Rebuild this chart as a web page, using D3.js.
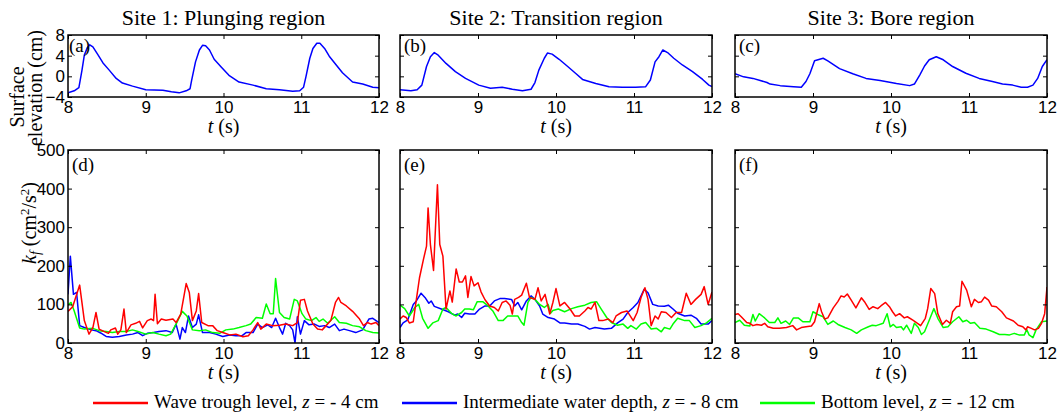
<!DOCTYPE html>
<html>
<head>
<meta charset="utf-8">
<script src="https://cdn.jsdelivr.net/npm/d3@7"></script>
<style>
  body { margin: 0; background: #fff; }
  svg { display: block; }
</style>
</head>
<body>
<svg id="chart" width="1059" height="414"></svg>
<script>
// ---- tick values and titles ----
const timeTicks = [8, 9, 10, 11, 12];
const elevTicks = [-4, 0, 4, 8];
const kfTicks = [0, 100, 200, 300, 400, 500];
const siteTitles = ["Site 1: Plunging region", "Site 2: Transition region", "Site 3: Bore region"];
const elevLetters = ["(a)", "(b)", "(c)"];
const kfLetters = ["(d)", "(e)", "(f)"];
const legendBefore = ["Wave trough level, ", "Intermediate water depth, ", "Bottom level, "];
const legendAfter = [" = - 4 cm", " = - 8 cm", " = - 12 cm"];

// ---- surface elevation (cm) vs t (s) ----
const elev1 = [[8.0,-3.2],[8.08,-2.8],[8.14,-2.2],[8.18,1.2],[8.21,4.1],[8.25,5.6],[8.28,6.1],[8.32,5.7],[8.38,4.3],[8.45,2.6],[8.53,1.2],[8.62,-0.4],[8.70,-1.3],[8.83,-1.9],[9.0,-2.6],[9.22,-2.7],[9.33,-3.0],[9.43,-3.2],[9.52,-2.8],[9.57,-2.4],[9.59,-0.8],[9.64,2.8],[9.69,5.1],[9.73,6.0],[9.77,5.9],[9.82,5.1],[9.88,3.3],[9.97,1.8],[10.07,0.2],[10.20,-1.1],[10.38,-1.7],[10.55,-2.4],[10.72,-2.6],[10.89,-2.9],[10.98,-2.8],[11.03,-2.1],[11.06,-0.1],[11.11,3.5],[11.15,5.4],[11.20,6.4],[11.24,6.4],[11.30,5.4],[11.36,3.9],[11.45,2.2],[11.53,0.7],[11.66,-1.1],[11.79,-1.5],[11.92,-2.1],[12.0,-2.2]];
const elev2 = [[8.0,-2.6],[8.14,-2.8],[8.22,-2.6],[8.28,-1.7],[8.34,1.9],[8.39,3.8],[8.44,4.6],[8.49,4.1],[8.59,2.5],[8.71,0.9],[8.84,-0.4],[9.01,-1.7],[9.16,-2.3],[9.31,-2.1],[9.44,-2.5],[9.57,-2.8],[9.68,-2.5],[9.73,-1.2],[9.78,1.2],[9.85,3.5],[9.89,4.5],[9.95,4.3],[10.04,3.3],[10.15,1.9],[10.25,0.6],[10.34,-0.6],[10.51,-1.4],[10.68,-2.0],[10.85,-2.1],[11.02,-2.1],[11.15,-2.0],[11.21,-0.7],[11.27,2.8],[11.32,3.8],[11.37,5.1],[11.43,4.6],[11.51,3.5],[11.62,2.2],[11.75,0.9],[11.88,-0.6],[11.96,-1.7],[12.0,-2.0]];
const elev3 = [[8.0,0.5],[8.11,-0.1],[8.23,-0.4],[8.41,-1.2],[8.45,-1.5],[8.58,-1.8],[8.75,-2.0],[8.85,-2.1],[8.91,-1.0],[8.96,0.5],[9.02,3.0],[9.13,3.5],[9.19,3.0],[9.34,1.5],[9.51,0.5],[9.68,-0.4],[9.86,-0.8],[10.07,-1.4],[10.24,-1.8],[10.30,-1.5],[10.37,0.3],[10.43,2.0],[10.49,3.2],[10.58,3.8],[10.67,3.2],[10.79,1.9],[10.96,0.6],[11.13,-0.4],[11.30,-1.0],[11.43,-1.5],[11.56,-1.7],[11.67,-2.1],[11.75,-2.1],[11.82,-1.7],[11.88,-0.4],[11.94,1.9],[12.0,3.2]];

// ---- turbulent kinetic energy k_f (cm^2/s^2) vs t (s) ----
const kf1Trough = [[8.0,82],[8.06,94],[8.15,150],[8.21,58],[8.27,23],[8.32,40],[8.36,79],[8.40,36],[8.46,30],[8.52,25],[8.55,34],[8.61,39],[8.64,23],[8.68,34],[8.72,88],[8.75,27],[8.81,47],[8.87,51],[8.92,56],[8.96,39],[9.02,58],[9.07,62],[9.10,58],[9.12,126],[9.15,50],[9.20,62],[9.26,59],[9.35,62],[9.39,53],[9.45,75],[9.52,154],[9.56,131],[9.60,58],[9.65,83],[9.68,128],[9.72,53],[9.80,45],[9.86,45],[9.92,32],[9.99,27],[10.08,21],[10.16,23],[10.25,16],[10.32,19],[10.38,34],[10.44,53],[10.48,36],[10.55,49],[10.63,45],[10.72,46],[10.80,49],[10.89,45],[10.95,53],[10.99,111],[11.04,113],[11.08,83],[11.15,49],[11.21,36],[11.27,34],[11.32,45],[11.38,58],[11.44,105],[11.48,118],[11.51,105],[11.58,96],[11.66,82],[11.75,62],[11.80,45],[11.85,53],[11.90,49],[11.96,53],[12.0,45]];
const kf1Mid = [[8.0,126],[8.03,225],[8.07,126],[8.11,131],[8.15,45],[8.21,40],[8.30,34],[8.36,32],[8.42,26],[8.49,17],[8.57,15],[8.66,17],[8.75,21],[8.83,23],[8.90,27],[8.96,19],[9.02,25],[9.10,27],[9.17,30],[9.26,32],[9.34,27],[9.39,49],[9.44,10],[9.47,40],[9.51,27],[9.55,70],[9.60,40],[9.65,49],[9.68,73],[9.73,27],[9.82,27],[9.90,23],[9.99,17],[10.08,21],[10.16,19],[10.24,19],[10.29,27],[10.38,27],[10.44,49],[10.50,40],[10.57,47],[10.62,40],[10.67,64],[10.72,40],[10.76,23],[10.80,51],[10.85,45],[10.89,34],[10.92,0],[10.95,68],[10.99,23],[11.04,58],[11.10,47],[11.17,49],[11.23,43],[11.30,45],[11.36,40],[11.43,49],[11.49,32],[11.55,36],[11.62,32],[11.70,27],[11.79,34],[11.87,62],[11.92,64],[12.0,53]];
const kf1Bottom = [[8.0,99],[8.04,105],[8.08,83],[8.15,39],[8.21,36],[8.32,38],[8.40,32],[8.49,30],[8.57,27],[8.66,30],[8.75,30],[8.83,34],[8.90,30],[9.00,23],[9.09,27],[9.17,23],[9.26,19],[9.32,23],[9.39,49],[9.47,82],[9.53,70],[9.60,34],[9.69,32],[9.77,34],[9.86,27],[9.95,25],[10.03,34],[10.12,36],[10.20,40],[10.29,45],[10.35,49],[10.42,66],[10.50,64],[10.55,101],[10.60,76],[10.64,76],[10.67,167],[10.72,79],[10.78,66],[10.85,62],[10.91,113],[10.95,109],[11.01,76],[11.06,62],[11.13,58],[11.19,66],[11.23,56],[11.28,62],[11.34,51],[11.43,68],[11.49,53],[11.58,51],[11.66,45],[11.75,42],[11.83,32],[11.92,27],[12.0,26]];

const kf2Trough = [[8.0,62],[8.04,70],[8.08,66],[8.12,52],[8.17,55],[8.21,113],[8.25,169],[8.30,216],[8.34,251],[8.36,350],[8.39,255],[8.43,188],[8.48,410],[8.51,255],[8.55,225],[8.59,88],[8.64,135],[8.67,106],[8.72,192],[8.76,158],[8.80,158],[8.84,174],[8.87,118],[8.91,172],[8.95,148],[9.00,156],[9.04,132],[9.09,112],[9.15,96],[9.21,92],[9.26,83],[9.31,105],[9.36,109],[9.41,98],[9.44,75],[9.47,113],[9.52,118],[9.56,124],[9.62,155],[9.66,118],[9.73,113],[9.77,143],[9.81,109],[9.86,126],[9.92,75],[9.96,105],[10.0,141],[10.05,96],[10.11,105],[10.18,88],[10.24,70],[10.30,70],[10.37,83],[10.41,92],[10.45,88],[10.50,105],[10.55,58],[10.60,58],[10.67,62],[10.73,53],[10.77,70],[10.84,79],[10.91,83],[10.99,58],[11.04,79],[11.09,118],[11.14,143],[11.18,113],[11.22,45],[11.27,70],[11.31,62],[11.35,81],[11.41,79],[11.48,66],[11.54,79],[11.61,79],[11.67,129],[11.73,100],[11.79,113],[11.86,126],[11.90,146],[11.95,100],[12.0,132]];
const kf2Mid = [[8.0,40],[8.04,52],[8.10,60],[8.17,100],[8.21,109],[8.27,129],[8.32,118],[8.37,103],[8.40,109],[8.44,95],[8.53,88],[8.62,81],[8.70,72],[8.74,75],[8.79,66],[8.83,77],[8.89,75],[8.96,75],[9.02,88],[9.09,96],[9.15,96],[9.21,109],[9.28,115],[9.34,115],[9.43,113],[9.47,96],[9.51,105],[9.56,86],[9.62,109],[9.68,122],[9.73,113],[9.79,96],[9.83,75],[9.90,66],[9.98,62],[10.05,52],[10.11,52],[10.20,49],[10.28,49],[10.37,43],[10.43,36],[10.50,40],[10.56,38],[10.62,36],[10.71,38],[10.79,52],[10.86,62],[10.92,79],[10.99,92],[11.05,105],[11.13,139],[11.18,130],[11.24,100],[11.31,96],[11.39,95],[11.44,98],[11.50,88],[11.56,77],[11.65,70],[11.73,72],[11.80,64],[11.86,49],[11.95,49],[12.0,58]];
const kf2Bottom = [[8.0,98],[8.06,89],[8.12,70],[8.19,92],[8.24,100],[8.29,64],[8.36,38],[8.42,52],[8.49,58],[8.55,88],[8.59,92],[8.66,77],[8.72,70],[8.79,79],[8.83,88],[8.89,88],[8.94,86],[8.99,107],[9.06,107],[9.13,96],[9.19,83],[9.26,58],[9.32,58],[9.38,70],[9.45,70],[9.51,70],[9.56,53],[9.59,46],[9.64,105],[9.68,118],[9.73,113],[9.79,100],[9.85,92],[9.90,100],[9.93,77],[9.96,84],[10.03,88],[10.11,81],[10.20,89],[10.28,94],[10.37,98],[10.45,105],[10.52,107],[10.58,88],[10.65,66],[10.71,53],[10.79,46],[10.86,49],[10.92,38],[10.96,45],[11.03,36],[11.09,49],[11.15,53],[11.22,36],[11.29,38],[11.35,29],[11.39,40],[11.46,36],[11.50,49],[11.56,64],[11.65,58],[11.71,58],[11.78,40],[11.86,45],[11.93,52],[12.0,64]];

const kf3Trough = [[8.0,74],[8.04,76],[8.08,68],[8.15,53],[8.19,51],[8.23,45],[8.28,48],[8.34,46],[8.38,51],[8.42,42],[8.49,38],[8.57,38],[8.66,40],[8.74,45],[8.79,34],[8.85,40],[8.91,42],[8.98,44],[9.02,55],[9.08,102],[9.11,81],[9.15,62],[9.19,65],[9.26,91],[9.32,108],[9.36,122],[9.40,119],[9.44,127],[9.49,111],[9.55,91],[9.62,117],[9.66,107],[9.72,87],[9.77,94],[9.83,89],[9.87,96],[9.93,105],[9.98,94],[10.02,81],[10.06,70],[10.11,76],[10.17,65],[10.21,68],[10.28,59],[10.34,51],[10.38,45],[10.44,64],[10.47,89],[10.51,141],[10.56,128],[10.60,76],[10.66,48],[10.71,59],[10.76,51],[10.79,81],[10.84,94],[10.88,96],[10.91,160],[10.97,137],[11.03,94],[11.07,113],[11.12,105],[11.16,107],[11.20,119],[11.25,111],[11.29,96],[11.35,94],[11.42,81],[11.48,65],[11.57,57],[11.63,46],[11.69,42],[11.73,34],[11.75,42],[11.80,38],[11.84,34],[11.89,38],[11.93,51],[11.97,76],[12.0,145]];
const kf3Bottom = [[8.0,53],[8.06,59],[8.12,46],[8.19,44],[8.23,74],[8.26,57],[8.31,76],[8.38,65],[8.44,53],[8.51,53],[8.55,65],[8.59,51],[8.65,57],[8.70,48],[8.75,65],[8.81,65],[8.87,55],[8.96,55],[9.0,81],[9.06,74],[9.13,68],[9.19,48],[9.26,57],[9.32,48],[9.41,40],[9.49,34],[9.56,25],[9.62,34],[9.71,42],[9.76,46],[9.81,45],[9.90,51],[9.95,76],[9.99,42],[10.03,48],[10.07,40],[10.13,42],[10.16,34],[10.20,46],[10.26,25],[10.30,51],[10.35,40],[10.39,22],[10.43,29],[10.49,59],[10.55,89],[10.60,64],[10.67,40],[10.73,42],[10.79,55],[10.87,68],[10.92,55],[10.97,59],[11.02,51],[11.07,53],[11.14,38],[11.22,36],[11.31,29],[11.39,22],[11.46,22],[11.52,21],[11.58,25],[11.64,21],[11.71,21],[11.74,35],[11.77,21],[11.82,14],[11.86,34],[11.93,55],[12.0,57]];

// ---- layout ----
const W = 1059, H = 414;
const columns = [[68, 379], [400, 712], [735, 1047]];
const topRow = [35, 97];
const botRow = [150, 343];
const RED = "#ff0000", BLUE = "#0000ff", GREEN = "#00ff00";
const SERIF = "'Liberation Serif', 'Times New Roman', serif";
const SANS = "'Liberation Sans', Arial, sans-serif";

const svg = d3.select("#chart");
svg.append("rect").attr("width", W).attr("height", H).attr("fill", "#fff");
const defs = svg.append("defs");

const elevPanels = [
  { lines: [{ data: elev1, color: BLUE }] },
  { lines: [{ data: elev2, color: BLUE }] },
  { lines: [{ data: elev3, color: BLUE }] }
];
const kfPanels = [
  { lines: [{ data: kf1Mid, color: BLUE }, { data: kf1Bottom, color: GREEN }, { data: kf1Trough, color: RED }] },
  { lines: [{ data: kf2Mid, color: BLUE }, { data: kf2Bottom, color: GREEN }, { data: kf2Trough, color: RED }] },
  { lines: [{ data: kf3Bottom, color: GREEN }, { data: kf3Trough, color: RED }] }
];

function drawPanel(id, col, row, yDomain, yTicks, panel, letter, showYLabels) {
  const [x0, x1] = columns[col];
  const [y0, y1] = row;
  const x = d3.scaleLinear().domain([8, 12]).range([x0, x1]);
  const y = d3.scaleLinear().domain(yDomain).range([y1, y0]);
  const g = svg.append("g");

  defs.append("clipPath").attr("id", id)
    .append("rect").attr("x", x0).attr("y", y0).attr("width", x1 - x0).attr("height", y1 - y0);

  const line = d3.line().x(d => x(d[0])).y(d => y(d[1]));
  const lg = g.append("g").attr("clip-path", `url(#${id})`);
  panel.lines.forEach(s => {
    lg.append("path").datum(s.data).attr("d", line)
      .attr("fill", "none").attr("stroke", s.color)
      .attr("stroke-width", 1.5).attr("stroke-linejoin", "round");
  });

  // bottom axis with labels, ticks pointing inward
  const ax = g.append("g").attr("transform", `translate(0,${y1})`)
    .call(d3.axisBottom(x).tickValues(timeTicks).tickSize(-4).tickPadding(4).tickFormat(d3.format("d")));
  // top axis, ticks only
  const axT = g.append("g").attr("transform", `translate(0,${y0})`)
    .call(d3.axisTop(x).tickValues(timeTicks).tickSize(-4).tickFormat(""));
  // left axis
  const ayL = g.append("g").attr("transform", `translate(${x0},0)`)
    .call(d3.axisLeft(y).tickValues(yTicks).tickSize(-4).tickPadding(3)
      .tickFormat(showYLabels ? d3.format("d") : ""));
  // right axis, ticks only
  const ayR = g.append("g").attr("transform", `translate(${x1},0)`)
    .call(d3.axisRight(y).tickValues(yTicks).tickSize(-4).tickFormat(""));

  [ax, axT, ayL, ayR].forEach(a => {
    a.select(".domain").remove();
    a.selectAll(".tick line").attr("stroke", "#000").attr("stroke-width", 1);
    a.selectAll("text").attr("fill", "#000").style("font-family", SANS).style("font-size", "17px");
  });

  g.append("rect").attr("x", x0).attr("y", y0).attr("width", x1 - x0).attr("height", y1 - y0)
    .attr("fill", "none").attr("stroke", "#000").attr("stroke-width", 1.5);

  g.append("text").attr("x", x0 + (col === 0 && row === topRow ? 1 : 4)).attr("y", y0 + (row === topRow ? 17 : 21))
    .style("font-family", SERIF).style("font-size", "19px").attr("fill", "#000").text(letter);

  // t (s) axis title
  const tl = g.append("text").attr("x", (x0 + x1) / 2).attr("y", y1 + 36)
    .attr("text-anchor", "middle").style("font-family", SERIF).style("font-size", "20px").attr("fill", "#000");
  tl.append("tspan").style("font-style", "italic").text("t");
  tl.append("tspan").text(" (s)");
}

for (let c = 0; c < 3; c++) {
  svg.append("text").attr("x", (columns[c][0] + columns[c][1]) / 2).attr("y", 25)
    .attr("text-anchor", "middle").style("font-family", SERIF).style("font-size", "22px")
    .attr("fill", "#000").text(siteTitles[c]);
  drawPanel("clipTop" + c, c, topRow, [-4, 8], elevTicks, elevPanels[c], elevLetters[c], c === 0);
  drawPanel("clipBot" + c, c, botRow, [0, 500], kfTicks, kfPanels[c], kfLetters[c], c === 0);
}

// y-axis titles
svg.append("text").attr("transform", "translate(24,97) rotate(-90)")
  .attr("text-anchor", "middle").style("font-family", SERIF).style("font-size", "20px").attr("fill", "#000")
  .text("Surface");
svg.append("text").attr("transform", "translate(42,88) rotate(-90)")
  .attr("text-anchor", "middle").style("font-family", SERIF).style("font-size", "20px").attr("fill", "#000")
  .text("elevation (cm)");

const kl = svg.append("text").attr("transform", "translate(36,223) rotate(-90)")
  .attr("text-anchor", "middle").style("font-family", SERIF).style("font-size", "20px").attr("fill", "#000");
kl.append("tspan").style("font-style", "italic").text("k");
kl.append("tspan").style("font-style", "italic").style("font-size", "14px").attr("dy", 4).text("f");
kl.append("tspan").attr("dy", -4).text(" (cm");
kl.append("tspan").style("font-size", "13px").attr("dy", -7).text("2");
kl.append("tspan").attr("dy", 7).text("/s");
kl.append("tspan").style("font-size", "13px").attr("dy", -7).text("2");
kl.append("tspan").attr("dy", 7).text(")");

// legend
const legendColors = [RED, BLUE, GREEN];
const legendX = [93, 402, 760];
for (let i = 0; i < 3; i++) {
  svg.append("line").attr("x1", legendX[i]).attr("x2", legendX[i] + 55)
    .attr("y1", 403).attr("y2", 403).attr("stroke", legendColors[i]).attr("stroke-width", 2.5);
  const t = svg.append("text").attr("x", legendX[i] + 61).attr("y", 408)
    .style("font-family", SERIF).style("font-size", "19px").attr("fill", "#000");
  t.append("tspan").text(legendBefore[i]);
  t.append("tspan").style("font-style", "italic").text("z");
  t.append("tspan").text(legendAfter[i]);
}
</script>
</body>
</html>
